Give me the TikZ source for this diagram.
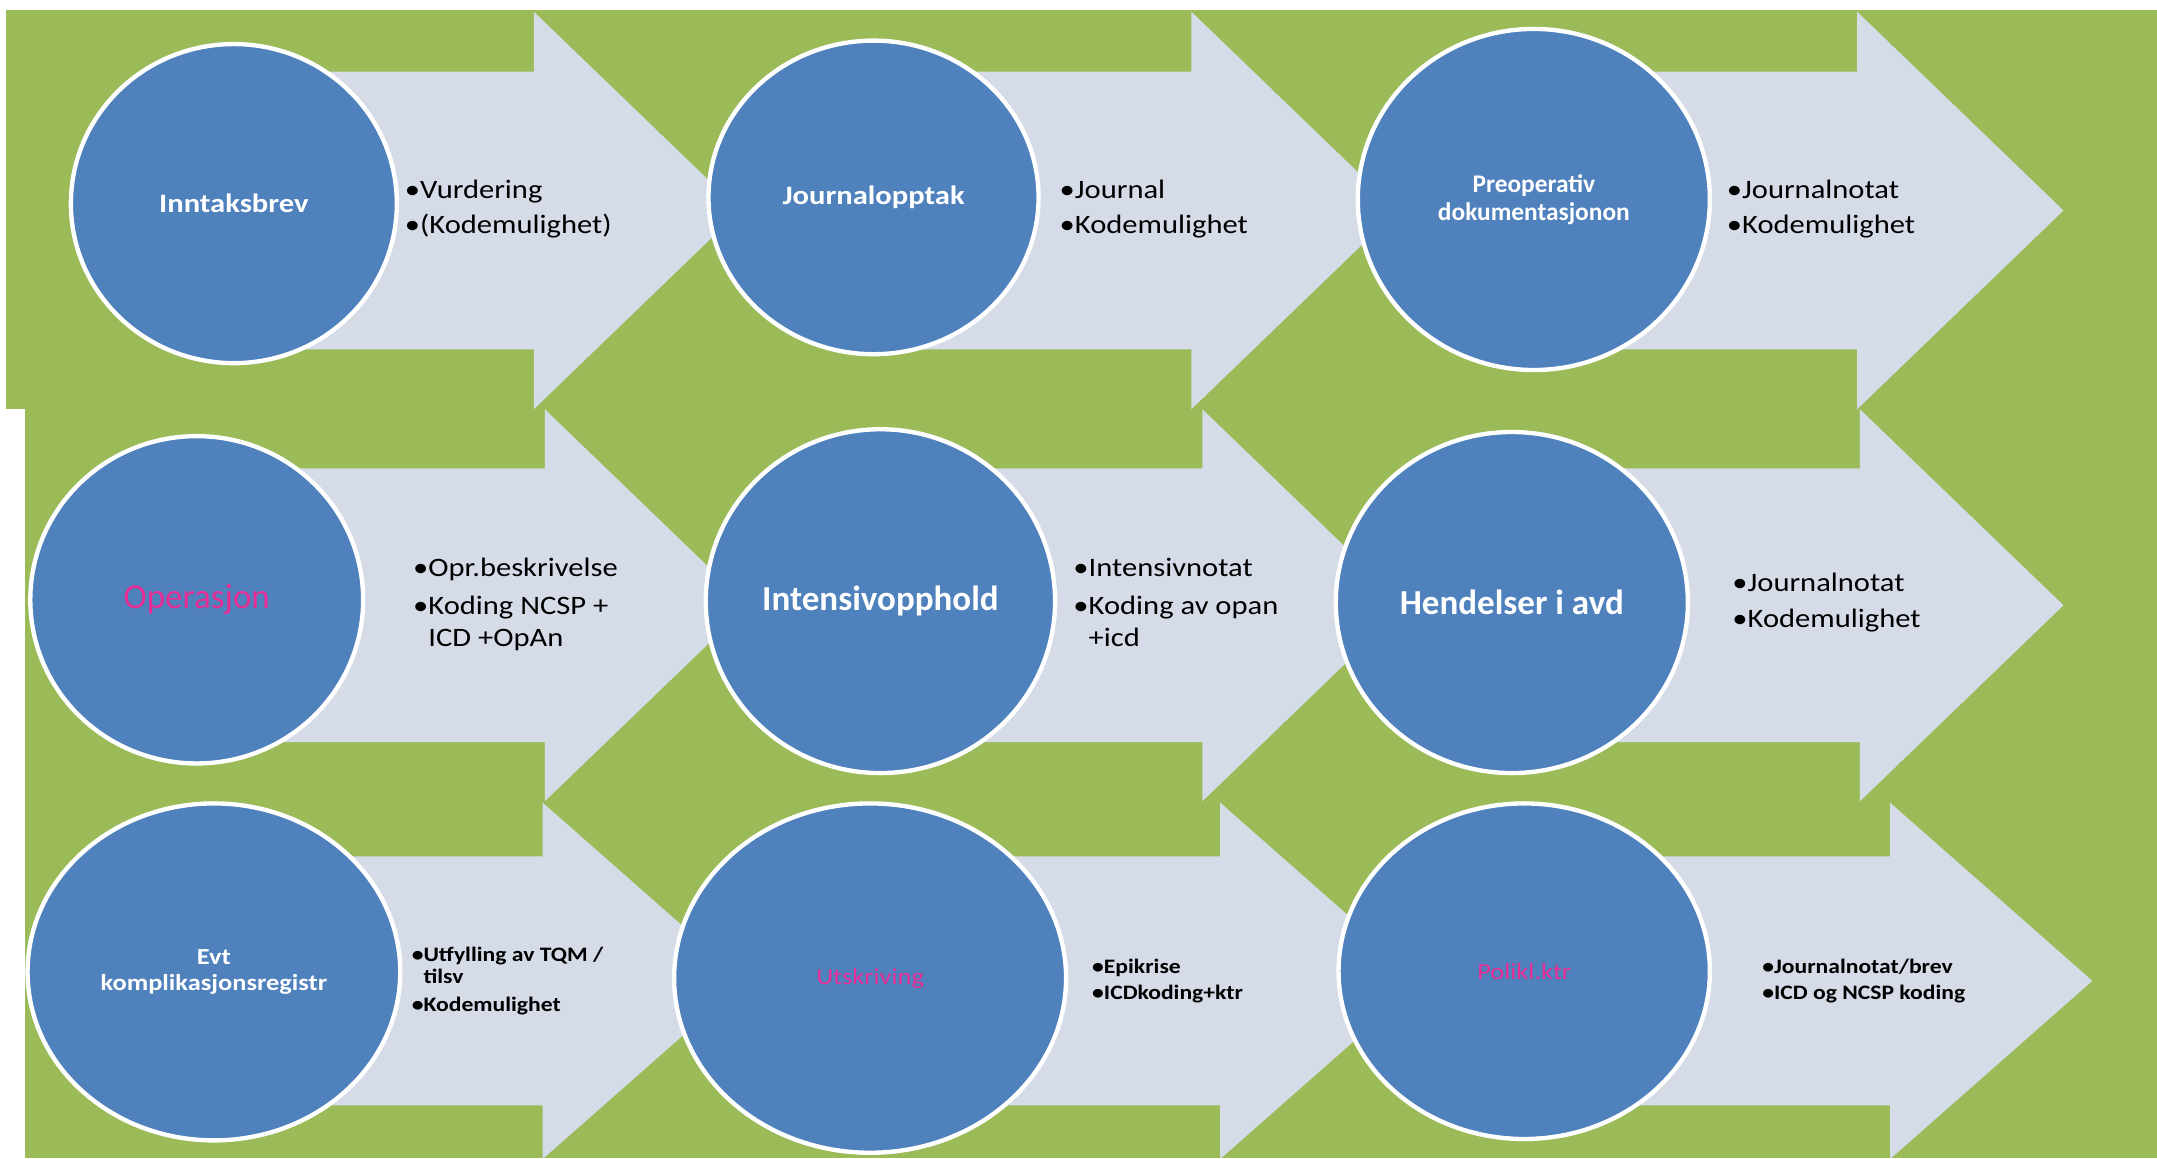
\documentclass[tikz,border=0pt]{standalone}
\usepackage{fontspec}
\setmainfont{Carlito}
\newfontfamily\widefont[FakeStretch=1.15]{Carlito}
\usetikzlibrary{shapes.geometric}

\definecolor{bggreen}{RGB}{155,187,89}
\definecolor{arrowgrey}{RGB}{213,220,232}
\definecolor{stageblue}{RGB}{79,129,189}
\definecolor{stagepink}{RGB}{232,46,150}

% list of bullet lines, baseline on the first line
\newcommand\bulletlines[1]{\begin{tabular}[t]{@{}l@{}}#1\end{tabular}}

\tikzset{
  stage/.style={ellipse, draw=white, line width=1.8pt, fill=stageblue, inner sep=0pt, align=center, text=white},
  head/.style={font=\widefont\fontsize{11}{13}\selectfont\bfseries},
  bighead/.style={font=\fontsize{14.5}{16}\selectfont\bfseries},
  smallhead/.style={font=\widefont\fontsize{9.5}{10.5}\selectfont\bfseries},
  pinkhead/.style={font=\fontsize{14.5}{16}\selectfont, text=stagepink},
  notes/.style={anchor=base west, inner sep=0pt, text=black},
}

\begin{document}
\begin{tikzpicture}[x=0.02cm, y=-0.02cm]
  \useasboundingbox (0,0) rectangle (1568,842);
  % green background, the upper row reaches further left
  \fill[bggreen] (4,7) rectangle (1568,297);
  \fill[bggreen] (18,297) rectangle (1568,842);

  % block arrows: shaft start / head base / mid y / shaft half / head half / head length
  \foreach \sx/\bx/\my/\sh/\hh/\hl in {
      170/388/153/101/144.5/150, 635/866/153/101/144.5/150, 1115/1350/153/101/144.5/150,
      143/396/440/99.5/142.5/148, 640/874/440/99.5/142.5/148, 1099/1352/440/99.5/142.5/148,
      155/394.5/713/90.5/129.5/147, 632/887/713/90.5/129.5/147, 1108/1374/713/90.5/129.5/147}
    \fill[arrowgrey] (\sx,\my-\sh) -- (\bx,\my-\sh) -- (\bx,\my-\hh) -- (\bx+\hl,\my)
      -- (\bx,\my+\hh) -- (\bx,\my+\sh) -- (\sx,\my+\sh) -- cycle;

  % stages
  \node[stage, head, minimum width=4.74cm, minimum height=4.64cm] (inntak) at (170,148) {Inntaksbrev};
  \node[stage, head, minimum width=4.8cm, minimum height=4.56cm] (journal) at (635,143.5) {Journalopptak};
  \node[stage, font=\fontsize{10.5}{11.5}\selectfont\bfseries, minimum width=5.12cm, minimum height=4.96cm] (preop) at (1115,145) {Preoperativ\\dokumentasjonon};
  \node[stage, pinkhead, minimum width=4.84cm, minimum height=4.76cm] (operasjon) at (143,436) {Operasjon};
  \node[stage, bighead, minimum width=5.08cm, minimum height=5cm] (intensiv) at (640,437) {Intensivopphold};
  \node[stage, bighead, minimum width=5.12cm, minimum height=4.96cm] (hendelser) at (1099,438) {Hendelser i avd};
  \node[stage, smallhead, minimum width=5.42cm, minimum height=4.9cm] (kompl) at (155.5,706.5) {Evt\\komplikasjonsregistr};
  \node[stage, pinkhead, font=\widefont\fontsize{9.5}{11}\selectfont, minimum width=5.7cm, minimum height=5.08cm] (utskriv) at (632.5,711) {Utskriving};
  \node[stage, pinkhead, font=\widefont\fontsize{9.5}{11}\selectfont, minimum width=5.4cm, minimum height=4.88cm] (polikl) at (1108,706) {Polikl.ktr};

  % bullet notes on the arrows
  \node[notes, font=\widefont\fontsize{11}{14.7}\selectfont] (n-inntak) at (294,144) {\bulletlines{\textbullet Vurdering\\\textbullet(Kodemulighet)}};
  \node[notes, font=\widefont\fontsize{11}{14.7}\selectfont] (n-journal) at (770,144) {\bulletlines{\textbullet Journal\\\textbullet Kodemulighet}};
  \node[notes, font=\widefont\fontsize{11}{14.7}\selectfont] (n-preop) at (1255,144) {\bulletlines{\textbullet Journalnotat\\\textbullet Kodemulighet}};
  \node[notes, font=\widefont\fontsize{11}{13}\selectfont] (n-operasjon) at (300,419) {\bulletlines{\textbullet Opr.beskrivelse\\[2.9pt]\textbullet Koding NCSP +\\\phantom{\textbullet}ICD +OpAn}};
  \node[notes, font=\widefont\fontsize{11}{13}\selectfont] (n-intensiv) at (780,419) {\bulletlines{\textbullet Intensivnotat\\[2.9pt]\textbullet Koding av opan\\\phantom{\textbullet}+icd}};
  \node[notes, font=\widefont\fontsize{11}{15}\selectfont] (n-hendelser) at (1259,430) {\bulletlines{\textbullet Journalnotat\\\textbullet Kodemulighet}};
  \node[notes, font=\widefont\fontsize{8.5}{9}\selectfont\bfseries] (n-kompl) at (299,699) {\bulletlines{\textbullet Utfylling av TQM /\\\phantom{\textbullet}tilsv\\[2.7pt]\textbullet Kodemulighet}};
  \node[notes, font=\widefont\fontsize{8.5}{11}\selectfont\bfseries] (n-utskriv) at (793.6,707.5) {\bulletlines{\textbullet Epikrise\\\textbullet ICDkoding+ktr}};
  \node[notes, font=\widefont\fontsize{8.5}{11}\selectfont\bfseries] (n-polikl) at (1280.7,707.5) {\bulletlines{\textbullet Journalnotat/brev\\\textbullet ICD og NCSP koding}};
\end{tikzpicture}
\end{document}
